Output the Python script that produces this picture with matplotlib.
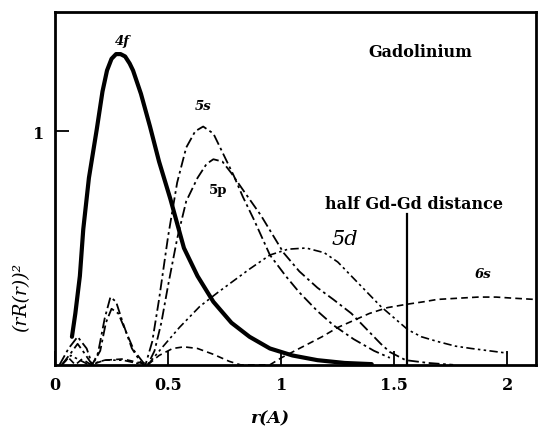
import matplotlib.pyplot as plt

# --- Dados (r em A, (rR(r))^2) ---
r_4f = [0.075, 0.09, 0.11, 0.125, 0.15, 0.185, 0.21, 0.23, 0.25, 0.27, 0.29, 0.31, 0.33,
        0.345, 0.38, 0.42, 0.46, 0.51, 0.57, 0.63, 0.70, 0.78, 0.86, 0.95, 1.05, 1.16,
        1.28, 1.40]
v_4f = [0.12, 0.22, 0.38, 0.58, 0.80, 1.01, 1.17, 1.26, 1.31, 1.33, 1.33, 1.32, 1.29,
        1.26, 1.16, 1.02, 0.87, 0.71, 0.50, 0.38, 0.27, 0.18, 0.12, 0.07, 0.04, 0.02,
        0.008, 0.003]

r_5s = [0.02, 0.06, 0.10, 0.14, 0.165, 0.19, 0.22, 0.245, 0.27, 0.30, 0.34, 0.38, 0.40,
        0.43, 0.46, 0.50, 0.54, 0.58, 0.62, 0.655, 0.70, 0.74, 0.79, 0.83, 0.88, 0.95,
        1.02, 1.08, 1.16, 1.23, 1.32, 1.41, 1.48]
v_5s = [0.0, 0.07, 0.12, 0.07, 0.0, 0.05, 0.20, 0.29, 0.27, 0.18, 0.07, 0.01, 0.0,
        0.10, 0.28, 0.55, 0.78, 0.93, 1.00, 1.02, 0.99, 0.91, 0.81, 0.72, 0.62, 0.47,
        0.38, 0.31, 0.23, 0.17, 0.11, 0.06, 0.03]

r_5p = [0.03, 0.07, 0.10, 0.13, 0.165, 0.20, 0.225, 0.25, 0.28, 0.31, 0.35, 0.39, 0.41,
        0.44, 0.47, 0.50, 0.54, 0.58, 0.63, 0.67, 0.70, 0.74, 0.78, 0.83, 0.91, 1.01,
        1.08, 1.16, 1.23, 1.31, 1.38, 1.44, 1.48, 1.55, 1.65, 1.76]
v_5p = [0.0, 0.05, 0.09, 0.05, 0.0, 0.06, 0.18, 0.24, 0.22, 0.15, 0.06, 0.01, 0.0,
        0.06, 0.18, 0.34, 0.54, 0.70, 0.80, 0.86, 0.88, 0.87, 0.82, 0.75, 0.64, 0.48,
        0.40, 0.33, 0.28, 0.22, 0.15, 0.09, 0.055, 0.02, 0.008, 0.0]

r_5d = [0.03, 0.07, 0.11, 0.15, 0.22, 0.30, 0.37, 0.41, 0.47, 0.55, 0.64, 0.72, 0.79,
        0.86, 0.95, 1.03, 1.11, 1.19, 1.25, 1.31, 1.38, 1.44, 1.50, 1.56, 1.62, 1.69,
        1.77, 1.84, 1.92, 2.00]
v_5d = [0.0, 0.04, 0.02, 0.0, 0.02, 0.02, 0.005, 0.0, 0.07, 0.16, 0.25, 0.31, 0.36,
        0.41, 0.47, 0.495, 0.50, 0.48, 0.44, 0.38, 0.31, 0.25, 0.20, 0.15, 0.12, 0.10,
        0.08, 0.07, 0.06, 0.05]

r_6s = [0.03, 0.06, 0.09, 0.12, 0.16, 0.22, 0.30, 0.37, 0.41, 0.46, 0.52, 0.57, 0.63,
        0.70, 0.77, 0.82, 0.95, 1.00, 1.05, 1.10, 1.18, 1.25, 1.32, 1.39, 1.47, 1.56,
        1.63, 1.69, 1.78, 1.87, 1.95, 2.03, 2.12]
v_6s = [0.0, 0.03, 0.0, 0.025, 0.0, 0.02, 0.025, 0.01, 0.0, 0.04, 0.07, 0.077, 0.07,
        0.045, 0.015, 0.0, 0.0, 0.03, 0.055, 0.08, 0.12, 0.16, 0.19, 0.22, 0.245, 0.26,
        0.27, 0.28, 0.285, 0.29, 0.29, 0.285, 0.28]

meia_distancia = 1.555
altura_linha = 0.645

# --- Figura ---
plt.rcParams['font.family'] = ['DejaVu Serif']
fig = plt.figure(figsize=(5.39, 4.35), dpi=100)
ax = fig.add_axes([0.102, 0.159, 0.892, 0.811])

ax.plot(r_4f, v_4f, color='black', lw=3.0, solid_capstyle='round', solid_joinstyle='round')
ax.plot(r_5s, v_5s, color='black', lw=1.3, linestyle=(0, (6, 2, 1.5, 2)))
ax.plot(r_5p, v_5p, color='black', lw=1.3, linestyle=(0, (6, 2, 1.5, 2)))
ax.plot(r_5d, v_5d, color='black', lw=1.2, linestyle=(0, (5, 2, 1.5, 2, 1.5, 2)))
ax.plot(r_6s, v_6s, color='black', lw=1.2, linestyle=(0, (4, 2.5)))
ax.plot([meia_distancia, meia_distancia], [0, altura_linha], color='black', lw=1.6)

ax.set_xlim(0, 2.125)
ax.set_ylim(0, 1.51)

ax.set_xticks([0, 0.5, 1, 1.5, 2])
ax.set_xticklabels(['0', '0.5', '1', '1.5', '2'], fontsize=11.5, fontweight='bold')
ax.set_yticks([1])
ax.set_yticklabels(['1'], fontsize=11.5, fontweight='bold')
ax.tick_params(axis='both', direction='in', length=10, width=1.3, pad=8)

for lado in ax.spines.values():
    lado.set_linewidth(2)

ax.set_xlabel('r(A)', fontsize=12.5, fontstyle='italic', fontweight='bold')
ax.xaxis.set_label_coords(0.447, -0.125)
ax.set_ylabel('(rR(r))²', fontsize=13.5, fontstyle='italic')
ax.yaxis.set_label_coords(-0.052, 0.195)

# --- Anotações ---
ax.text(0.3, 1.39, '4f', fontsize=9.5, fontstyle='italic', fontweight='bold', ha='center', va='center')
ax.text(0.655, 1.11, '5s', fontsize=9.5, fontstyle='italic', fontweight='bold', ha='center', va='center')
ax.text(0.72, 0.75, '5p', fontsize=9.5, fontweight='bold', ha='center', va='center')
ax.text(1.28, 0.54, '5d', fontsize=15, fontstyle='italic', ha='center', va='center')
ax.text(1.89, 0.39, '6s', fontsize=9.5, fontstyle='italic', fontweight='bold', ha='center', va='center')
ax.text(1.615, 1.34, 'Gadolinium', fontsize=11.5, fontweight='bold', ha='center', va='center')
ax.text(1.585, 0.69, 'half Gd-Gd distance', fontsize=11.5, fontweight='bold', ha='center', va='center')

fig.savefig('out.png', dpi=100)
